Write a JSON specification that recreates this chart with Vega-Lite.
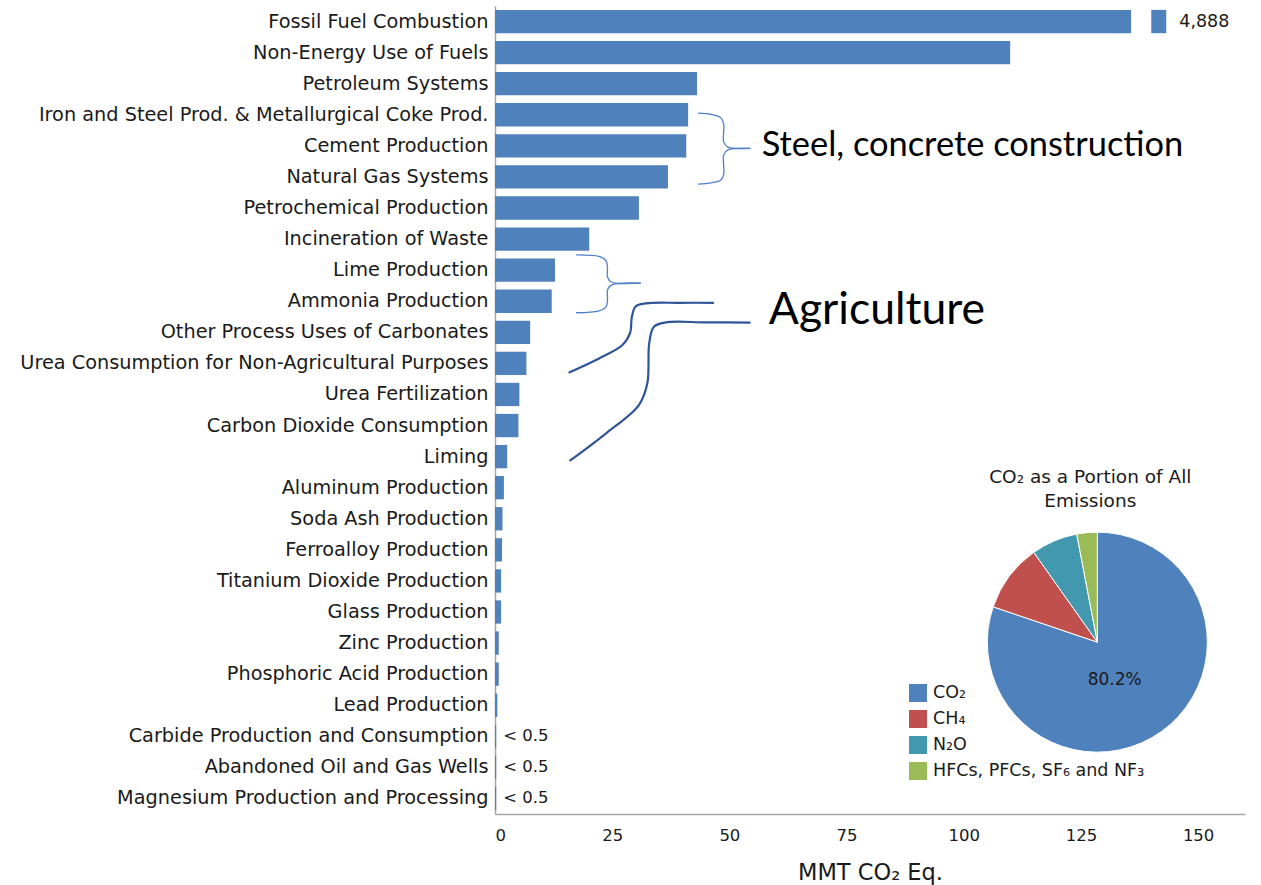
{
  "$schema": "https://vega.github.io/schema/vega-lite/v6.json",
  "autosize": {"type": "none"},
  "width": 750,
  "height": 808,
  "padding": {"left": 495, "top": 6, "right": 16, "bottom": 71},
  "background": "white",
  "config": {"view": {"stroke": null}, "font": "DejaVu Sans"},
  "datasets": {
    "bars": [
      {"category": "Fossil Fuel Combustion", "mmt": 135.7},
      {"category": "Non-Energy Use of Fuels", "mmt": 109.9},
      {"category": "Petroleum Systems", "mmt": 43.1},
      {"category": "Iron and Steel Prod. & Metallurgical Coke Prod.", "mmt": 41.2},
      {"category": "Cement Production", "mmt": 40.8},
      {"category": "Natural Gas Systems", "mmt": 36.9},
      {"category": "Petrochemical Production", "mmt": 30.7},
      {"category": "Incineration of Waste", "mmt": 20.1},
      {"category": "Lime Production", "mmt": 12.8},
      {"category": "Ammonia Production", "mmt": 12.1},
      {"category": "Other Process Uses of Carbonates", "mmt": 7.5},
      {"category": "Urea Consumption for Non-Agricultural Purposes", "mmt": 6.7},
      {"category": "Urea Fertilization", "mmt": 5.2},
      {"category": "Carbon Dioxide Consumption", "mmt": 5.0},
      {"category": "Liming", "mmt": 2.6},
      {"category": "Aluminum Production", "mmt": 1.9},
      {"category": "Soda Ash Production", "mmt": 1.6},
      {"category": "Ferroalloy Production", "mmt": 1.5},
      {"category": "Titanium Dioxide Production", "mmt": 1.3},
      {"category": "Glass Production", "mmt": 1.3},
      {"category": "Zinc Production", "mmt": 0.8},
      {"category": "Phosphoric Acid Production", "mmt": 0.8},
      {"category": "Lead Production", "mmt": 0.5},
      {"category": "Carbide Production and Consumption", "mmt": 0.25, "note": "< 0.5"},
      {"category": "Abandoned Oil and Gas Wells", "mmt": 0.25, "note": "< 0.5"},
      {"category": "Magnesium Production and Processing", "mmt": 0.25, "note": "< 0.5"}
    ],
    "breaks": [
      {"category": "Fossil Fuel Combustion", "from": 140.0, "to": 143.2, "label": "4,888"}
    ],
    "braces": [
      {"group": "steel-top", "seq": 1, "x": 43.3, "r": 3.45},
      {"group": "steel-top", "seq": 2, "x": 46.1, "r": 3.49},
      {"group": "steel-top", "seq": 3, "x": 48.2, "r": 3.60},
      {"group": "steel-top", "seq": 4, "x": 48.8, "r": 3.80},
      {"group": "steel-top", "seq": 5, "x": 48.8, "r": 4.38},
      {"group": "steel-top", "seq": 6, "x": 49.7, "r": 4.54},
      {"group": "steel-top", "seq": 7, "x": 54.5, "r": 4.58},
      {"group": "steel-bottom", "seq": 1, "x": 54.5, "r": 4.58},
      {"group": "steel-bottom", "seq": 2, "x": 49.7, "r": 4.63},
      {"group": "steel-bottom", "seq": 3, "x": 48.8, "r": 4.79},
      {"group": "steel-bottom", "seq": 4, "x": 48.8, "r": 5.41},
      {"group": "steel-bottom", "seq": 5, "x": 48.2, "r": 5.60},
      {"group": "steel-bottom", "seq": 6, "x": 46.1, "r": 5.69},
      {"group": "steel-bottom", "seq": 7, "x": 43.3, "r": 5.73},
      {"group": "lime-top", "seq": 1, "x": 17.3, "r": 8.01},
      {"group": "lime-top", "seq": 2, "x": 22.2, "r": 8.06},
      {"group": "lime-top", "seq": 3, "x": 23.7, "r": 8.20},
      {"group": "lime-top", "seq": 4, "x": 24.0, "r": 8.43},
      {"group": "lime-top", "seq": 5, "x": 24.0, "r": 8.72},
      {"group": "lime-top", "seq": 6, "x": 24.8, "r": 8.88},
      {"group": "lime-top", "seq": 7, "x": 31.1, "r": 8.92},
      {"group": "lime-bottom", "seq": 1, "x": 31.1, "r": 8.92},
      {"group": "lime-bottom", "seq": 2, "x": 24.8, "r": 8.98},
      {"group": "lime-bottom", "seq": 3, "x": 24.0, "r": 9.14},
      {"group": "lime-bottom", "seq": 4, "x": 24.0, "r": 9.46},
      {"group": "lime-bottom", "seq": 5, "x": 23.7, "r": 9.68},
      {"group": "lime-bottom", "seq": 6, "x": 22.2, "r": 9.81},
      {"group": "lime-bottom", "seq": 7, "x": 17.3, "r": 9.87}
    ],
    "curves": [
      {"group": "a", "seq": 1, "x": 15.7, "r": 11.80},
      {"group": "a", "seq": 2, "x": 22.2, "r": 11.34},
      {"group": "a", "seq": 3, "x": 27.2, "r": 10.91},
      {"group": "a", "seq": 4, "x": 28.8, "r": 10.53},
      {"group": "a", "seq": 5, "x": 29.2, "r": 10.00},
      {"group": "a", "seq": 6, "x": 30.0, "r": 9.67},
      {"group": "a", "seq": 7, "x": 32.2, "r": 9.57},
      {"group": "a", "seq": 8, "x": 39.3, "r": 9.55},
      {"group": "a", "seq": 9, "x": 46.7, "r": 9.55},
      {"group": "b", "seq": 1, "x": 15.9, "r": 14.64},
      {"group": "b", "seq": 2, "x": 23.7, "r": 13.75},
      {"group": "b", "seq": 3, "x": 30.7, "r": 12.84},
      {"group": "b", "seq": 4, "x": 32.5, "r": 12.14},
      {"group": "b", "seq": 5, "x": 32.9, "r": 10.85},
      {"group": "b", "seq": 6, "x": 33.9, "r": 10.32},
      {"group": "b", "seq": 7, "x": 36.4, "r": 10.18},
      {"group": "b", "seq": 8, "x": 44.9, "r": 10.18},
      {"group": "b", "seq": 9, "x": 54.5, "r": 10.19}
    ],
    "gases": [
      {"gas": "CO₂", "share": 80.2, "t0": 0, "t1": 80.2, "x": 128.5, "r": 20.47},
      {"gas": "CH₄", "share": 10.0, "t0": 80.2, "t1": 90.2, "x": 128.5, "r": 20.47},
      {"gas": "N₂O", "share": 6.8, "t0": 90.2, "t1": 97.0, "x": 128.5, "r": 20.47},
      {"gas": "HFCs, PFCs, SF₆ and NF₃", "share": 3.0, "t0": 97.0, "t1": 100, "x": 128.5, "r": 20.47}
    ]
  },
  "layer": [
    {
      "data": {"name": "bars"},
      "mark": {"type": "bar", "color": "#4F81BD"},
      "encoding": {
        "y": {
          "field": "category", "type": "nominal", "sort": null,
          "scale": {"paddingInner": 0.25, "paddingOuter": 0.125},
          "axis": {"title": null, "ticks": false, "domainColor": "#A6A6A6", "domainWidth": 1.5, "labelFont": "DejaVu Sans", "labelFontSize": 19.3, "labelColor": "#1a1a1a", "labelPadding": 7, "labelLimit": 700}
        },
        "x": {
          "field": "mmt", "type": "quantitative",
          "scale": {"domain": [0, 160], "nice": false},
          "axis": {"orient": "bottom", "title": "MMT CO₂ Eq.", "values": [0, 25, 50, 75, 100, 125, 150], "grid": false, "ticks": false, "domainColor": "#A6A6A6", "domainWidth": 1.5, "labelFont": "DejaVu Sans", "labelFontSize": 16.5, "labelColor": "#1a1a1a", "labelPadding": 13, "titleFont": "DejaVu Sans", "titleFontSize": 22.5, "titleFontWeight": "normal", "titleColor": "#1a1a1a", "titlePadding": 18}
        }
      }
    },
    {
      "data": {"name": "breaks"},
      "mark": {"type": "bar", "color": "#4F81BD"},
      "encoding": {
        "y": {"field": "category", "type": "nominal", "axis": null, "scale": {"domain": ["Fossil Fuel Combustion", "Non-Energy Use of Fuels", "Petroleum Systems", "Iron and Steel Prod. & Metallurgical Coke Prod.", "Cement Production", "Natural Gas Systems", "Petrochemical Production", "Incineration of Waste", "Lime Production", "Ammonia Production", "Other Process Uses of Carbonates", "Urea Consumption for Non-Agricultural Purposes", "Urea Fertilization", "Carbon Dioxide Consumption", "Liming", "Aluminum Production", "Soda Ash Production", "Ferroalloy Production", "Titanium Dioxide Production", "Glass Production", "Zinc Production", "Phosphoric Acid Production", "Lead Production", "Carbide Production and Consumption", "Abandoned Oil and Gas Wells", "Magnesium Production and Processing"], "paddingInner": 0.25, "paddingOuter": 0.125}},
        "x": {"field": "from", "type": "quantitative", "axis": null},
        "x2": {"field": "to"}
      }
    },
    {
      "data": {"name": "breaks"},
      "mark": {"type": "text", "align": "left", "baseline": "middle", "dx": 13, "font": "DejaVu Sans", "fontSize": 17.5, "color": "#1a1a1a"},
      "encoding": {
        "y": {"field": "category", "type": "nominal", "axis": null, "scale": {"domain": ["Fossil Fuel Combustion", "Non-Energy Use of Fuels", "Petroleum Systems", "Iron and Steel Prod. & Metallurgical Coke Prod.", "Cement Production", "Natural Gas Systems", "Petrochemical Production", "Incineration of Waste", "Lime Production", "Ammonia Production", "Other Process Uses of Carbonates", "Urea Consumption for Non-Agricultural Purposes", "Urea Fertilization", "Carbon Dioxide Consumption", "Liming", "Aluminum Production", "Soda Ash Production", "Ferroalloy Production", "Titanium Dioxide Production", "Glass Production", "Zinc Production", "Phosphoric Acid Production", "Lead Production", "Carbide Production and Consumption", "Abandoned Oil and Gas Wells", "Magnesium Production and Processing"], "paddingInner": 0.25, "paddingOuter": 0.125}},
        "x": {"field": "to", "type": "quantitative", "axis": null},
        "text": {"field": "label"}
      }
    },
    {
      "data": {"name": "bars"},
      "transform": [{"filter": "isValid(datum.note)"}],
      "mark": {"type": "text", "align": "left", "baseline": "middle", "dx": 7, "font": "DejaVu Sans", "fontSize": 16.5, "color": "#1a1a1a"},
      "encoding": {
        "y": {"field": "category", "type": "nominal", "axis": null, "scale": {"domain": ["Fossil Fuel Combustion", "Non-Energy Use of Fuels", "Petroleum Systems", "Iron and Steel Prod. & Metallurgical Coke Prod.", "Cement Production", "Natural Gas Systems", "Petrochemical Production", "Incineration of Waste", "Lime Production", "Ammonia Production", "Other Process Uses of Carbonates", "Urea Consumption for Non-Agricultural Purposes", "Urea Fertilization", "Carbon Dioxide Consumption", "Liming", "Aluminum Production", "Soda Ash Production", "Ferroalloy Production", "Titanium Dioxide Production", "Glass Production", "Zinc Production", "Phosphoric Acid Production", "Lead Production", "Carbide Production and Consumption", "Abandoned Oil and Gas Wells", "Magnesium Production and Processing"], "paddingInner": 0.25, "paddingOuter": 0.125}},
        "x": {"field": "mmt", "type": "quantitative", "axis": null},
        "text": {"field": "note"}
      }
    },
    {
      "data": {"name": "braces"},
      "mark": {"type": "line", "color": "#4F7FC9", "strokeWidth": 1.3, "interpolate": "catmull-rom"},
      "encoding": {
        "x": {"field": "x", "type": "quantitative", "axis": null},
        "y": {"field": "r", "type": "quantitative", "axis": null, "scale": {"domain": [0, 26], "reverse": true, "nice": false, "zero": false}},
        "detail": {"field": "group"},
        "order": {"field": "seq"}
      }
    },
    {
      "data": {"name": "curves"},
      "mark": {"type": "line", "color": "#2F5597", "strokeWidth": 2.2, "interpolate": "catmull-rom"},
      "encoding": {
        "x": {"field": "x", "type": "quantitative", "axis": null},
        "y": {"field": "r", "type": "quantitative", "axis": null, "scale": {"domain": [0, 26], "reverse": true, "nice": false, "zero": false}},
        "detail": {"field": "group"},
        "order": {"field": "seq"}
      }
    },
    {
      "data": {"values": [{"text": "Steel, concrete construction", "x": 56.9, "r": 4.5}]},
      "mark": {"type": "text", "align": "left", "baseline": "middle", "font": "Lato", "fontSize": 34.4, "color": "#000000"},
      "encoding": {
        "x": {"field": "x", "type": "quantitative", "axis": null},
        "y": {"field": "r", "type": "quantitative", "axis": null, "scale": {"domain": [0, 26], "reverse": true, "nice": false, "zero": false}},
        "text": {"field": "text"}
      }
    },
    {
      "data": {"values": [{"text": "Agriculture", "x": 58.4, "r": 9.8}]},
      "mark": {"type": "text", "align": "left", "baseline": "middle", "font": "Lato", "fontSize": 44.5, "color": "#000000"},
      "encoding": {
        "x": {"field": "x", "type": "quantitative", "axis": null},
        "y": {"field": "r", "type": "quantitative", "axis": null, "scale": {"domain": [0, 26], "reverse": true, "nice": false, "zero": false}},
        "text": {"field": "text"}
      }
    },
    {
      "data": {"values": [{"text": "CO₂ as a Portion of All", "x": 127.0, "r": 15.15}, {"text": "Emissions", "x": 127.0, "r": 15.93}]},
      "mark": {"type": "text", "align": "center", "baseline": "middle", "font": "DejaVu Sans", "fontSize": 18.5, "color": "#1a1a1a"},
      "encoding": {
        "x": {"field": "x", "type": "quantitative", "axis": null},
        "y": {"field": "r", "type": "quantitative", "axis": null, "scale": {"domain": [0, 26], "reverse": true, "nice": false, "zero": false}},
        "text": {"field": "text"}
      }
    },
    {
      "data": {"name": "gases"},
      "mark": {"type": "arc", "outerRadius": 110, "stroke": "white", "strokeWidth": 1},
      "encoding": {
        "x": {"field": "x", "type": "quantitative", "axis": null},
        "y": {"field": "r", "type": "quantitative", "axis": null, "scale": {"domain": [0, 26], "reverse": true, "nice": false, "zero": false}},
        "theta": {"field": "t0", "type": "quantitative", "scale": {"domain": [0, 100]}},
        "theta2": {"field": "t1"},
        "color": {
          "field": "gas", "type": "nominal",
          "scale": {"domain": ["CO₂", "CH₄", "N₂O", "HFCs, PFCs, SF₆ and NF₃"], "range": ["#4F81BD", "#C0504D", "#4198AF", "#9BBB59"]},
          "legend": {"title": null, "orient": "none", "legendX": 414, "legendY": 678, "symbolType": "square", "symbolSize": 324, "symbolStrokeWidth": 0, "labelFont": "DejaVu Sans", "labelFontSize": 17.5, "labelColor": "#1a1a1a", "labelOffset": 6, "rowPadding": 8, "padding": 0, "labelLimit": 400}
        }
      }
    },
    {
      "data": {"values": [{"text": "80.2%", "x": 132.2, "r": 21.69}]},
      "mark": {"type": "text", "align": "center", "baseline": "middle", "font": "DejaVu Sans", "fontSize": 17, "color": "#1a1a1a"},
      "encoding": {
        "x": {"field": "x", "type": "quantitative", "axis": null},
        "y": {"field": "r", "type": "quantitative", "axis": null, "scale": {"domain": [0, 26], "reverse": true, "nice": false, "zero": false}},
        "text": {"field": "text"}
      }
    }
  ],
  "resolve": {"scale": {"y": "independent"}, "axis": {"x": "independent"}}
}
